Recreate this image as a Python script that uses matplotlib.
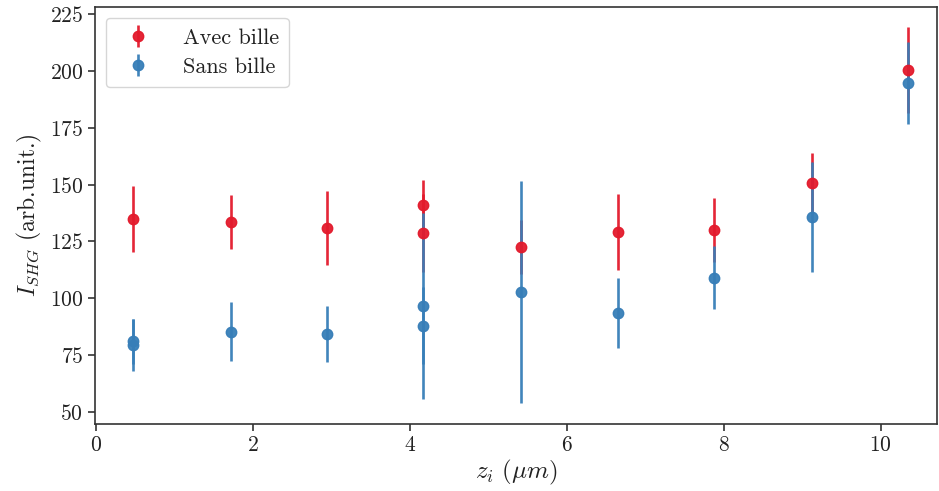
import numpy as np
import matplotlib
matplotlib.use('Agg')
import matplotlib.pyplot as plt

plt.rcParams['font.family'] = 'serif'
plt.rcParams['font.serif'] = ['cmr10']
plt.rcParams['mathtext.fontset'] = 'cm'
plt.rcParams['axes.formatter.use_mathtext'] = True

# avec bille (red)
z_avec = [0.47, 1.71, 2.94, 4.17, 4.17, 5.41, 6.65, 7.88, 9.12, 10.35]
I_avec = [134.9, 133.5, 130.9, 141.0, 128.7, 122.5, 129.1, 130.0, 150.7, 200.4]
err_avec = [14.5, 12.0, 16.3, 11.0, 17.0, 12.0, 16.8, 14.0, 13.0, 19.0]

# sans bille (blue)
z_sans = [0.47, 0.47, 1.71, 2.94, 4.17, 4.17, 5.41, 6.65, 7.88, 9.12, 10.35]
I_sans = [80.9, 79.3, 85.2, 84.3, 96.6, 87.8, 102.7, 93.5, 109.0, 135.7, 194.7]
err_sans = [10.0, 11.5, 13.0, 12.3, 41.0, 17.0, 49.0, 15.5, 14.0, 24.0, 18.0]

red = '#e31a2c'
blue = '#377eb8'

fig = plt.figure(figsize=(9.39, 4.91), dpi=100)
ax = fig.add_axes([0.101, 0.137, 0.897, 0.849])

ax.errorbar(z_avec, I_avec, yerr=err_avec, fmt='o', color=red, ms=7.5,
            elinewidth=1.9, capsize=0, alpha=0.95, label='Avec bille')
ax.errorbar(z_sans, I_sans, yerr=err_sans, fmt='o', color=blue, ms=7.5,
            elinewidth=1.9, capsize=0, alpha=0.95, label='Sans bille')

ax.set_xlim(-0.02, 10.72)
ax.set_ylim(44.7, 228.2)
ax.set_yticks([50, 75, 100, 125, 150, 175, 200, 225])
ax.set_xticks([0, 2, 4, 6, 8, 10])

for s in ax.spines.values():
    s.set_color('#333333')
    s.set_linewidth(1.2)
ax.tick_params(direction='out', length=5, width=1.2, color='#333333',
               labelsize=15.5, labelcolor='#222222')

ax.set_xlabel(r'$z_i\ (\mu m)$', fontsize=18, color='#222222', labelpad=2)
ax.set_ylabel(r'$I_{SHG}$ (arb.unit.)', fontsize=17, color='#222222')

leg = ax.legend(loc='upper left', fontsize=16, frameon=True, fancybox=True,
                borderpad=0.45, handletextpad=1.0, labelspacing=0.45)
leg.get_frame().set_edgecolor('#cccccc')
for t in leg.get_texts():
    t.set_color('#222222')

fig.savefig('out.png', dpi=100)
